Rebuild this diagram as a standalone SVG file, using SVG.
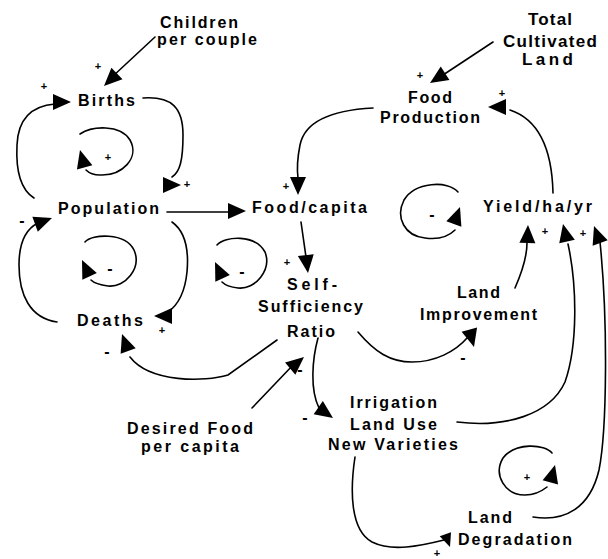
<svg xmlns="http://www.w3.org/2000/svg" xmlns:xlink="http://www.w3.org/1999/xlink" width="608" height="559" viewBox="0 0 608 559">
<style>
  .t { font-family: "Liberation Sans", Arial, sans-serif; font-weight: bold; font-size: 16px; fill: #000; }
  .tb { font-family: "Liberation Sans", Arial, sans-serif; font-weight: bold; font-size: 17px; fill: #000; }
  .p { font-family: "Liberation Sans", Arial, sans-serif; font-weight: bold; font-size: 11px; fill: #000; text-anchor: middle; }
  .m { font-family: "Liberation Sans", Arial, sans-serif; font-weight: bold; font-size: 16px; fill: #000; text-anchor: middle; }
  .c { fill: none; stroke: #000; stroke-width: 1.6; stroke-linecap: round; }
</style>
<defs>
  <path id="ah" d="M0,0 L-18,-8 L-18,8 Z" fill="#000"/>
</defs>
<rect width="608" height="559" fill="#fff"/>

<g id="connectors">
  <path class="c" d="M155,37 L112,77"/>
  <use xlink:href="#ah" transform="translate(104,86) rotate(136)"/>

  <path class="c" d="M34,198 C18,188 16,165 17,145 C18,120 30,106 55,104"/>
  <use xlink:href="#ah" transform="translate(71,102) rotate(0)"/>

  <path class="c" d="M143,98 C172,96 183,108 183,135 C183,160 180,172 172,177"/>
  <use xlink:href="#ah" transform="translate(181,185) rotate(0)"/>

  <path class="c" d="M80,134 C92,126 120,124 130,140 C140,158 122,176 100,175 C92,175 88,172 86,170"/>
  <use xlink:href="#ah" transform="translate(80,150) rotate(-105)"/>

  <path class="c" d="M167,212 L230,212"/>
  <use xlink:href="#ah" transform="translate(246,211) rotate(0)"/>

  <path class="c" d="M57,322 C30,318 19,295 19,265 C19,240 28,228 38,223"/>
  <use xlink:href="#ah" transform="translate(52,218) rotate(-20)"/>

  <path class="c" d="M85,242 C92,234 125,232 134,250 C142,268 125,288 108,286 C100,285 94,283 91,280"/>
  <use xlink:href="#ah" transform="translate(82,260) rotate(-115)"/>

  <path class="c" d="M172,222 C186,232 189,250 187,272 C185,292 178,305 168,312"/>
  <use xlink:href="#ah" transform="translate(154,316) rotate(180)"/>

  <path class="c" d="M277,340 L228,375 C205,382 150,383 130,357"/>
  <use xlink:href="#ah" transform="translate(122,334) rotate(-110)"/>

  <path class="c" d="M217,245 C225,236 255,234 265,252 C272,270 255,290 238,288 C230,287 225,285 222,282"/>
  <use xlink:href="#ah" transform="translate(215,262) rotate(-115)"/>

  <path class="c" d="M373,108 C335,110 305,120 300,145 C297,160 297,170 298,178"/>
  <use xlink:href="#ah" transform="translate(298,195) rotate(90)"/>

  <path class="c" d="M301,222 L306,257"/>
  <use xlink:href="#ah" transform="translate(308,273) rotate(83)"/>

  <path class="c" d="M252,408 L294,364"/>
  <use xlink:href="#ah" transform="translate(304,357) rotate(-40)"/>

  <path class="c" d="M318,338 C312,360 310,390 319,408"/>
  <use xlink:href="#ah" transform="translate(333,418) rotate(35)"/>

  <path class="c" d="M358,332 C375,352 390,362 412,362 C435,362 455,352 468,337"/>
  <use xlink:href="#ah" transform="translate(474,347) rotate(75)"/>

  <path class="c" d="M515,288 C522,272 527,258 527,243"/>
  <use xlink:href="#ah" transform="translate(528,225) rotate(-88)"/>

  <path class="c" d="M457,422 C505,428 550,415 565,382 C578,345 577,285 568,244"/>
  <use xlink:href="#ah" transform="translate(563,224) rotate(-103)"/>

  <path class="c" d="M533,517 C565,522 590,508 599,470 C607,430 608,320 600,242"/>
  <use xlink:href="#ah" transform="translate(594,226) rotate(-110)"/>

  <path class="c" d="M458,192 C448,180 415,182 404,200 C395,218 405,236 425,238 C440,240 450,235 455,230"/>
  <use xlink:href="#ah" transform="translate(460,207) rotate(-70)"/>

  <path class="c" d="M553,193 C552,150 540,120 510,110"/>
  <use xlink:href="#ah" transform="translate(488,107) rotate(180)"/>

  <path class="c" d="M493,42 L443,75"/>
  <use xlink:href="#ah" transform="translate(430,83) rotate(147)"/>

  <path class="c" d="M355,457 C350,490 350,530 372,542 C392,552 420,546 444,540"/>
  <use xlink:href="#ah" transform="translate(450,547) rotate(70) scale(0.75)"/>

  <path class="c" d="M552,453 C545,444 515,442 503,458 C493,475 505,495 525,495 C535,495 542,491 547,487"/>
  <use xlink:href="#ah" transform="translate(555,465) rotate(-75)"/>
</g>

<g id="signs">
  <text class="p" x="98" y="70">+</text>
  <text class="p" x="44" y="90">+</text>
  <text class="p" x="108" y="161">+</text>
  <text class="p" x="187" y="188">+</text>
  <text class="m" x="22" y="226">-</text>
  <text class="m" x="110" y="274">-</text>
  <text class="p" x="162" y="334">+</text>
  <text class="m" x="107" y="357">-</text>
  <text class="m" x="242" y="277">-</text>
  <text class="p" x="286" y="190">+</text>
  <text class="p" x="287" y="266">+</text>
  <text class="m" x="300" y="375">-</text>
  <text class="m" x="305" y="423">-</text>
  <text class="m" x="463" y="363">-</text>
  <text class="p" x="545" y="235">+</text>
  <text class="p" x="583" y="237">+</text>
  <text class="m" x="432" y="220">-</text>
  <text class="p" x="502" y="97">+</text>
  <text class="p" x="420" y="79">+</text>
  <text class="p" x="437" y="557">+</text>
  <text class="p" x="527" y="481">+</text>
</g>

<g id="children">
  <text class="t" x="160" y="28" textLength="78" lengthAdjust="spacing">Children</text>
  <text class="t" x="157" y="45" textLength="100" lengthAdjust="spacing">per couple</text>
</g>
<g id="births"><text class="t" x="78" y="106" textLength="57" lengthAdjust="spacing">Births</text></g>
<g id="population"><text class="t" x="58" y="214" textLength="101" lengthAdjust="spacing">Population</text></g>
<g id="deaths"><text class="t" x="77" y="326" textLength="66" lengthAdjust="spacing">Deaths</text></g>
<g id="food-capita"><text class="t" x="252" y="213" textLength="115" lengthAdjust="spacing">Food/capita</text></g>
<g id="self-sufficiency">
  <text class="t" x="287" y="290" textLength="50" lengthAdjust="spacing">Self-</text>
  <text class="t" x="258" y="312" textLength="105" lengthAdjust="spacing">Sufficiency</text>
  <text class="t" x="287" y="337" textLength="48" lengthAdjust="spacing">Ratio</text>
</g>
<g id="desired-food">
  <text class="t" x="127" y="434" textLength="126" lengthAdjust="spacing">Desired Food</text>
  <text class="t" x="141" y="452" textLength="98" lengthAdjust="spacing">per capita</text>
</g>
<g id="irrigation">
  <text class="t" x="350" y="408" textLength="87" lengthAdjust="spacing">Irrigation</text>
  <text class="t" x="350" y="430" textLength="87" lengthAdjust="spacing">Land Use</text>
  <text class="t" x="328" y="450" textLength="130" lengthAdjust="spacing">New Varieties</text>
</g>
<g id="land-improvement">
  <text class="t" x="457" y="298" textLength="43" lengthAdjust="spacing">Land</text>
  <text class="t" x="420" y="320" textLength="117" lengthAdjust="spacing">Improvement</text>
</g>
<g id="yield"><text class="t" x="483" y="212" textLength="109" lengthAdjust="spacing">Yield/ha/yr</text></g>
<g id="total-cultivated-land">
  <text class="tb" x="528" y="25" textLength="44" lengthAdjust="spacing">Total</text>
  <text class="tb" x="503" y="47" textLength="94" lengthAdjust="spacing">Cultivated</text>
  <text class="tb" x="522" y="65" textLength="51" lengthAdjust="spacing">Land</text>
</g>
<g id="food-production">
  <text class="t" x="408" y="103" textLength="44" lengthAdjust="spacing">Food</text>
  <text class="t" x="380" y="123" textLength="100" lengthAdjust="spacing">Production</text>
</g>
<g id="land-degradation">
  <text class="t" x="468" y="523" textLength="44" lengthAdjust="spacing">Land</text>
  <text class="t" x="458" y="545" textLength="114" lengthAdjust="spacing">Degradation</text>
</g>
</svg>
